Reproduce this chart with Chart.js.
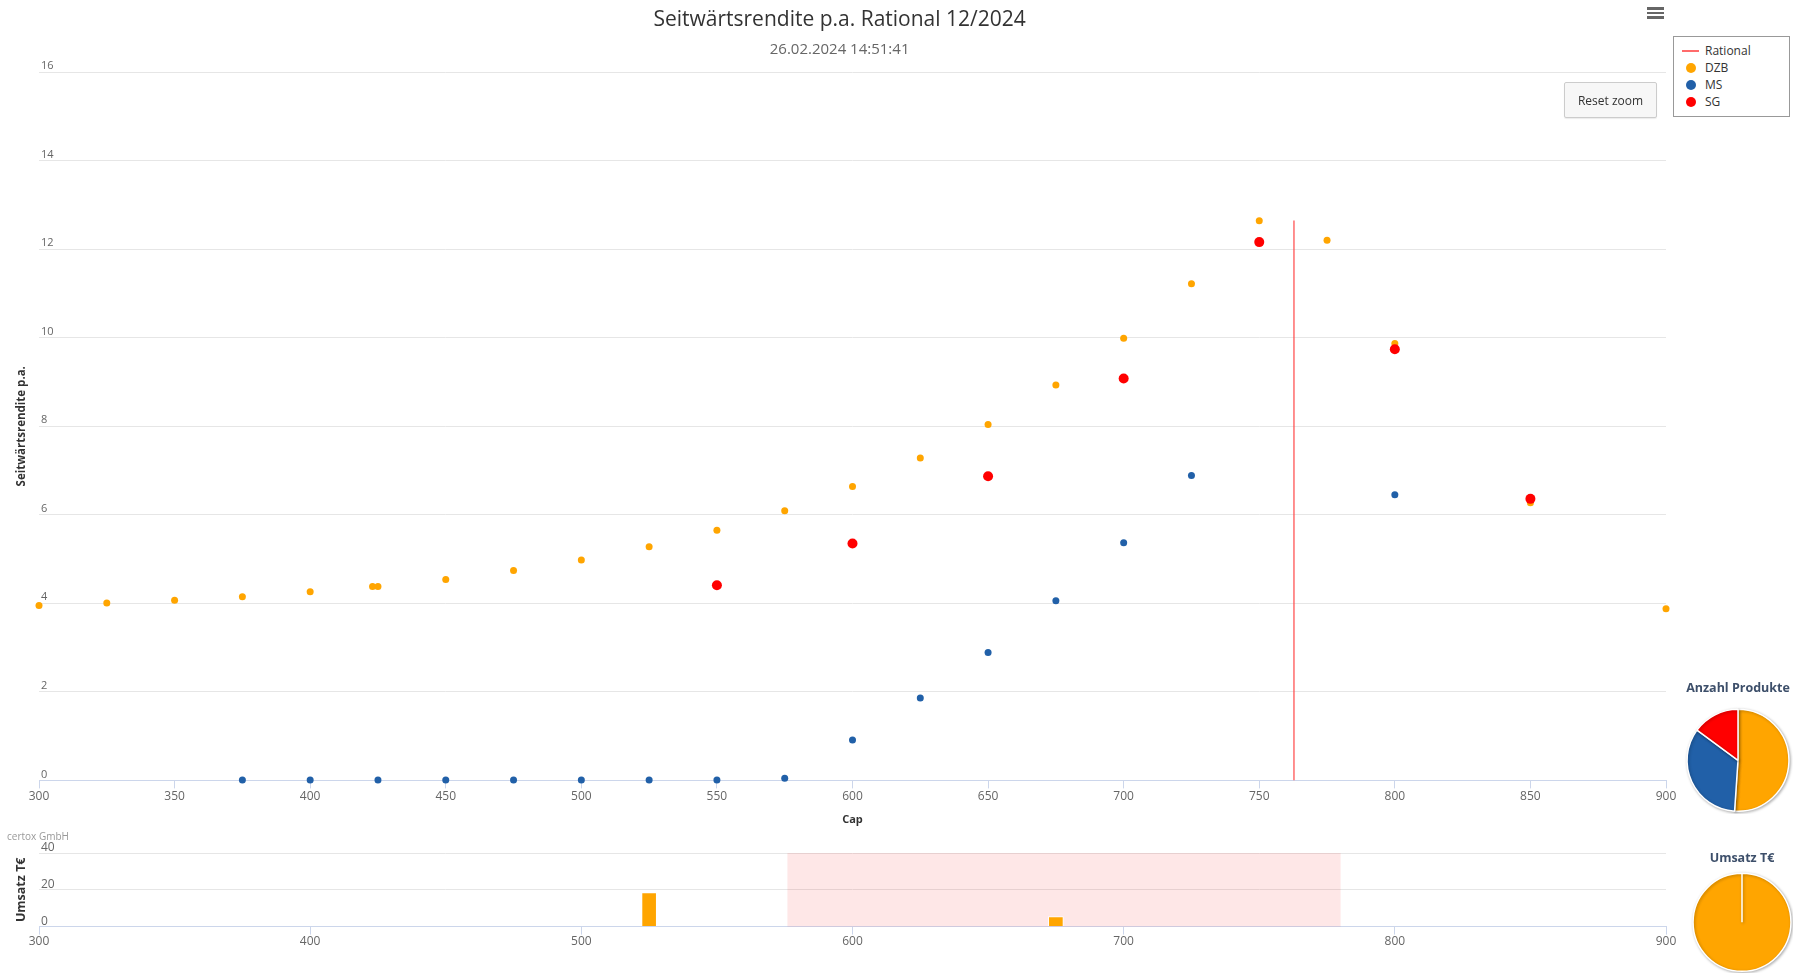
<!DOCTYPE html>
<html lang="de">
<head>
<meta charset="utf-8">
<title>Seitwärtsrendite p.a. Rational 12/2024</title>
<script src="https://cdn.jsdelivr.net/npm/chart.js@4.4.1/dist/chart.umd.min.js"></script>
<style>
  html, body { margin: 0; padding: 0; background: #fff; }
  body { position: relative; width: 1793px; height: 973px; overflow: hidden; font-family: 'Open Sans', 'DejaVu Sans', sans-serif; }
  .box { position: absolute; }
  #mainWrap { left: 0; top: 0; width: 1680px; height: 830px; }
  #volWrap { left: 0; top: 835px; width: 1680px; height: 138px; }
  #pieCountWrap { left: 1683px; top: 675px; width: 110px; height: 139px; }
  #pieVolWrap { left: 1686px; top: 845px; width: 112px; height: 128px; }
  #legend { left: 1673px; top: 36px; width: 117px; height: 81px; border: 1px solid #999; background: #fff; padding-top: 5px; box-sizing: border-box; }
  .item { height: 17px; display: flex; align-items: center; font-size: 12px; color: #333; }
  .sym { width: 17px; margin-left: 8px; margin-right: 6px; display: flex; justify-content: center; align-items: center; }
  .sym .ln { width: 17px; height: 2px; }
  .sym .dot { width: 10px; height: 10px; border-radius: 50%; }
  #reset { left: 1564px; top: 82px; width: 93px; height: 36px; box-sizing: border-box; background: #f7f7f7; border: 1px solid #cccccc; border-radius: 2px;
           font-size: 12px; color: #333; display: flex; align-items: center; justify-content: center; box-shadow: 0 1px 1px rgba(0,0,0,0.08); }
  #menu { left: 1647px; top: 7px; width: 17px; height: 13px; }
  #menu div { height: 2.5px; background: #666; margin-bottom: 2.2px; }
  #credits { left: 7px; top: 829px; font-size: 10px; color: #999; }
</style>
</head>
<body>
<div class="box" id="mainWrap"><canvas id="mainChart"></canvas></div>
<div class="box" id="volWrap"><canvas id="volChart"></canvas></div>
<div class="box" id="pieCountWrap"><canvas id="pieCount"></canvas></div>
<div class="box" id="pieVolWrap"><canvas id="pieVol"></canvas></div>
<div class="box" id="legend"></div>
<div class="box" id="reset">Reset zoom</div>
<div class="box" id="menu"><div></div><div></div><div></div></div>
<div class="box" id="credits">certox GmbH</div>

<script>
// --- data ---
const dzbCaps   = [300, 325, 350, 375, 400, 423, 425, 450, 475, 500, 525, 550, 575, 600, 625, 650, 675, 700, 725, 750, 775, 800, 850, 900];
const dzbYields = [3.95, 4.01, 4.07, 4.15, 4.26, 4.38, 4.38, 4.54, 4.74, 4.98, 5.28, 5.65, 6.09, 6.64, 7.28, 8.04, 8.93, 9.99, 11.22, 12.64, 12.20, 9.87, 6.27, 3.88];

const msCaps   = [375, 400, 425, 450, 475, 500, 525, 550, 575, 600, 625, 650, 675, 700, 725, 800];
const msYields = [0.01, 0.01, 0.01, 0.01, 0.01, 0.01, 0.01, 0.01, 0.05, 0.91, 1.86, 2.89, 4.06, 5.37, 6.89, 6.45];

const sgCaps   = [550, 600, 650, 700, 750, 800, 850];
const sgYields = [4.41, 5.35, 6.87, 9.08, 12.16, 9.74, 6.36];

// current Rational price (vertical line)
const rationalX = [762.8, 762.8];
const rationalY = [0, 12.65];

// turnover (T€) per cap
const umsatzCaps   = [525, 675];
const umsatzValues = [18.5, 5.5];
const plotBand     = [576, 780];

const issuers       = ['DZB', 'MS', 'SG'];
const productCounts = [dzbCaps.length, msCaps.length, sgCaps.length];
const umsatzShares  = [24, 0, 0];

const COLORS = { Rational: 'rgba(255,70,70,0.8)', DZB: '#ffa500', MS: '#2160a8', SG: '#ff0000' };
const FONT = "'Open Sans', 'DejaVu Sans', sans-serif";
Chart.defaults.font.family = FONT;
Chart.defaults.animation = false;

const toPoints = (xs, ys) => xs.map((x, i) => ({ x: x, y: ys[i] }));

const mainChart = new Chart(document.getElementById('mainChart'), {
    type: 'scatter',
    data: {
        datasets: [
            { label: 'Rational', type: 'line', showLine: true, data: toPoints(rationalX, rationalY),
              borderColor: COLORS.Rational, borderWidth: 1.5, pointRadius: 0, order: 0 },
            { label: 'DZB', data: toPoints(dzbCaps, dzbYields), backgroundColor: COLORS.DZB, borderWidth: 0,
              pointRadius: 3.5, clip: false, order: 3 },
            { label: 'MS', data: toPoints(msCaps, msYields), backgroundColor: COLORS.MS, borderWidth: 0,
              pointRadius: 3.5, clip: false, order: 2 },
            { label: 'SG', data: toPoints(sgCaps, sgYields), backgroundColor: COLORS.SG, borderWidth: 0,
              pointRadius: 5, clip: false, order: 1 }
        ]
    },
    options: {
        responsive: true, maintainAspectRatio: false,
        layout: { padding: { left: 13.2, right: 14, top: 0, bottom: 2 } },
        plugins: {
            legend: { display: false },
            tooltip: { enabled: false },
            title: { display: true, text: 'Seitwärtsrendite p.a. Rational 12/2024', color: '#333',
                     font: { size: 21, weight: 'normal' }, padding: { top: 7.5, bottom: 4 } },
            subtitle: { display: true, text: '26.02.2024 14:51:41', color: '#666',
                        font: { size: 15 }, padding: { top: 4.4, bottom: 13 } }
        },
        scales: {
            x: {
                type: 'linear', min: 300, max: 900,
                ticks: { stepSize: 50, color: '#666', font: { size: 12 }, padding: 1 },
                grid: { drawOnChartArea: false, drawTicks: true, tickLength: 8, color: '#ccd6eb' },
                border: { color: '#ccd6eb' },
                title: { display: true, text: 'Cap', color: '#333', font: { size: 11, weight: 'bold' }, padding: { top: 8, bottom: 2 } }
            },
            y: {
                min: 0, max: 16,
                ticks: { stepSize: 2, mirror: true, labelOffset: -6, padding: 2, color: '#666', font: { size: 11 } },
                grid: { color: '#e6e6e6', drawTicks: false },
                border: { display: false },
                title: { display: true, text: 'Seitwärtsrendite p.a.', color: '#333', font: { size: 11.5, weight: 'bold' }, padding: { top: 2, bottom: 6 } }
            }
        }
    }
});

// HTML legend built from the datasets
const legendEl = document.getElementById('legend');
mainChart.data.datasets.forEach(ds => {
    const item = document.createElement('div');
    item.className = 'item';
    const sym = ds.type === 'line'
        ? `<div class="ln" style="background:${COLORS[ds.label]}"></div>`
        : `<div class="dot" style="background:${COLORS[ds.label]}"></div>`;
    item.innerHTML = `<div class="sym">${sym}</div><span>${ds.label}</span>`;
    legendEl.appendChild(item);
});

const plotBandPlugin = {
    id: 'plotBand',
    beforeDatasetsDraw(chart) {
        const { ctx, chartArea, scales: { x } } = chart;
        const x0 = x.getPixelForValue(plotBand[0]);
        const x1 = x.getPixelForValue(plotBand[1]);
        ctx.save();
        ctx.fillStyle = 'rgba(245, 40, 40, 0.11)';
        ctx.fillRect(x0, chartArea.top, x1 - x0, chartArea.bottom - chartArea.top);
        ctx.restore();
    }
};

new Chart(document.getElementById('volChart'), {
    type: 'bar',
    data: {
        datasets: [{ label: 'DZB', data: toPoints(umsatzCaps, umsatzValues), backgroundColor: COLORS.DZB,
                     borderColor: '#ffffff', borderWidth: 1, barThickness: 15 }]
    },
    options: {
        responsive: true, maintainAspectRatio: false,
        layout: { padding: { left: 12, right: 14, top: 18, bottom: 24 } },
        plugins: { legend: { display: false }, tooltip: { enabled: false } },
        scales: {
            x: {
                type: 'linear', min: 300, max: 900, offset: false,
                ticks: { stepSize: 100, color: '#666', font: { size: 12 }, padding: 0 },
                grid: { offset: false, drawOnChartArea: false, drawTicks: true, tickLength: 8, color: '#ccd6eb' },
                border: { color: '#ccd6eb' }
            },
            y: {
                min: 0, max: 40,
                ticks: { stepSize: 20, mirror: true, labelOffset: -5, padding: 2, color: '#666', font: { size: 12 } },
                grid: { color: '#e6e6e6', drawTicks: false },
                border: { display: false },
                title: { display: true, text: 'Umsatz T€', color: '#333', font: { size: 12.5, weight: 'bold' }, padding: { top: 2, bottom: 6 } }
            }
        }
    },
    plugins: [plotBandPlugin]
});

const pieShadow = {
    id: 'pieShadow',
    beforeDatasetsDraw(chart) {
        const c = chart.ctx;
        c.save();
        c.shadowColor = 'rgba(0,0,0,0.3)';
        c.shadowBlur = 3;
        c.shadowOffsetX = 1;
        c.shadowOffsetY = 1;
    },
    afterDatasetsDraw(chart) { chart.ctx.restore(); }
};

function makePie(id, title, values, pad) {
    return new Chart(document.getElementById(id), {
        type: 'pie',
        data: {
            labels: issuers,
            datasets: [{ data: values, backgroundColor: issuers.map(k => COLORS[k]), borderColor: '#ffffff', borderWidth: 1.5 }]
        },
        options: {
            responsive: true, maintainAspectRatio: false,
            layout: { padding: pad },
            plugins: {
                legend: { display: false },
                tooltip: { enabled: false },
                title: { display: true, text: title, color: '#3d4f6a', font: { size: 12.5, weight: 'bold' },
                         padding: { top: 5.8, bottom: pad.titleGap } }
            }
        },
        plugins: [pieShadow]
    });
}

makePie('pieCount', 'Anzahl Produkte', productCounts, { left: 3, right: 3, top: 0, bottom: 2, titleGap: 12.8 });
makePie('pieVol', 'Umsatz T€', umsatzShares, { left: 5, right: 5, top: 0, bottom: 1, titleGap: 6.8 });
</script>
</body>
</html>
